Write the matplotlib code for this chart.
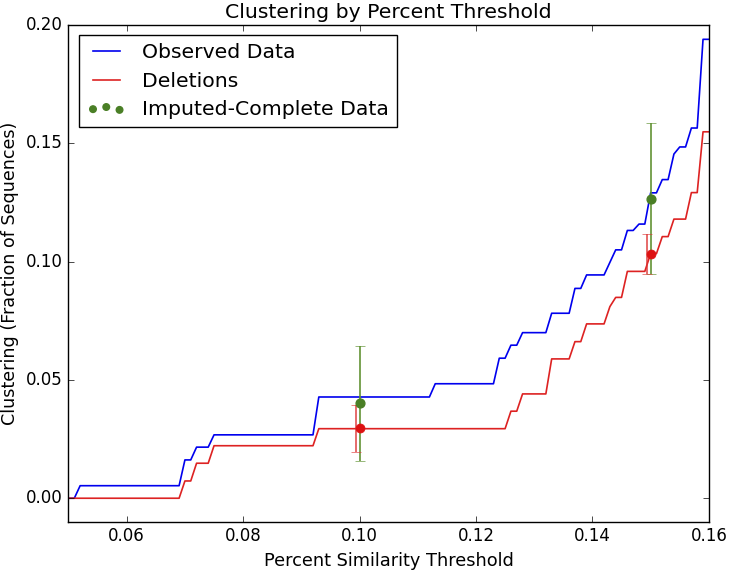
import numpy as np
import matplotlib
matplotlib.use('Agg')
import matplotlib.pyplot as plt

# thresholds at which clustering was evaluated
thresholds = np.round(np.arange(0.050, 0.1605, 0.001), 3)

# observed data: threshold where a new level starts, and the level
obs_starts = [0.050, 0.052, 0.070, 0.072, 0.075, 0.093, 0.113, 0.124, 0.126, 0.128,
              0.133, 0.137, 0.139, 0.143, 0.144, 0.146, 0.148, 0.150, 0.152, 0.154,
              0.155, 0.157, 0.159]
obs_levels = [0.0, 0.0053, 0.0162, 0.0216, 0.0268, 0.0428, 0.0484, 0.0592, 0.0647, 0.0700,
              0.0782, 0.0887, 0.0944, 0.0997, 0.1050, 0.1132, 0.1159, 0.1291, 0.1347, 0.1455,
              0.1485, 0.1565, 0.1940]

# deletions
del_starts = [0.050, 0.070, 0.072, 0.075, 0.093, 0.126, 0.128, 0.133, 0.137, 0.139,
              0.143, 0.144, 0.146, 0.150, 0.152, 0.154, 0.157, 0.159]
del_levels = [0.0, 0.0073, 0.0148, 0.0222, 0.0294, 0.0368, 0.0441, 0.0589, 0.0662, 0.0737,
              0.0810, 0.0849, 0.0959, 0.1034, 0.1106, 0.1180, 0.1292, 0.1549]

# imputed-complete data and deletion estimates with intervals
pt_x = [0.10, 0.15]
imp_y = [0.0401, 0.1264]
imp_lo = [0.0158, 0.0947]
imp_hi = [0.0645, 0.1585]
delpt_y = [0.0296, 0.1032]
delpt_lo = [0.0197, 0.0949]
delpt_hi = [0.0394, 0.1115]


def expand(starts, levels):
    idx = np.searchsorted(np.array(starts), thresholds + 1e-9, side='right') - 1
    return np.array(levels)[idx]


observed = expand(obs_starts, obs_levels)
deletions = expand(del_starts, del_levels)

plt.style.use('classic')
plt.rcParams['figure.facecolor'] = 'white'
plt.rcParams['savefig.facecolor'] = 'white'

green = '#4a7f26'
red = '#dd2222'

fig = plt.figure(figsize=(7.31, 5.71), dpi=100)
ax = fig.add_axes([0.0937, 0.086, 0.876, 0.870])

ax.plot(thresholds, observed, color='#0000ee', lw=1.2, label='Observed Data')
ax.plot(thresholds, deletions, color=red, lw=1.2, label='Deletions')

imp_err = [np.array(imp_y) - np.array(imp_lo), np.array(imp_hi) - np.array(imp_y)]
ax.errorbar(pt_x, imp_y, yerr=imp_err, fmt='none', ecolor='#5e9030', elinewidth=1.3,
            capsize=3.5, alpha=0.9)
ax.scatter(pt_x, imp_y, s=40, color=green, edgecolors=green, zorder=4,
           label='Imputed-Complete Data')

del_err = [np.array(delpt_y) - np.array(delpt_lo), np.array(delpt_hi) - np.array(delpt_y)]
ax.errorbar(np.array(pt_x) - 0.0006, delpt_y, yerr=del_err, fmt='none', ecolor='#dd3333',
            elinewidth=1.2, capsize=3.5, alpha=0.85)
ax.plot(pt_x, delpt_y, 'o', color='#dd1111', mec='#dd1111', ms=6.5, zorder=5)

ax.set_xlim(0.05, 0.16)
ax.set_ylim(-0.01, 0.20)
ax.set_xticks([0.06, 0.08, 0.10, 0.12, 0.14, 0.16])
ax.set_yticks([0.00, 0.05, 0.10, 0.15, 0.20])
ax.set_xticklabels(['0.06', '0.08', '0.10', '0.12', '0.14', '0.16'])
ax.set_yticklabels(['0.00', '0.05', '0.10', '0.15', '0.20'])

ax.set_title('Clustering by Percent Threshold', fontsize=14.7)
ax.set_xlabel('Percent Similarity Threshold', fontsize=12.8)
ax.set_ylabel('Clustering (Fraction of Sequences)', fontsize=12.6)

ax.legend(loc='upper left', scatterpoints=3, fontsize=14.7, handlelength=1.9,
          handletextpad=0.8, labelspacing=0.45, markerscale=0.75,
          scatteryoffsets=[0.4, 0.55, 0.35],
          fancybox=False, borderaxespad=0.5)

fig.savefig('out.png', dpi=100)
